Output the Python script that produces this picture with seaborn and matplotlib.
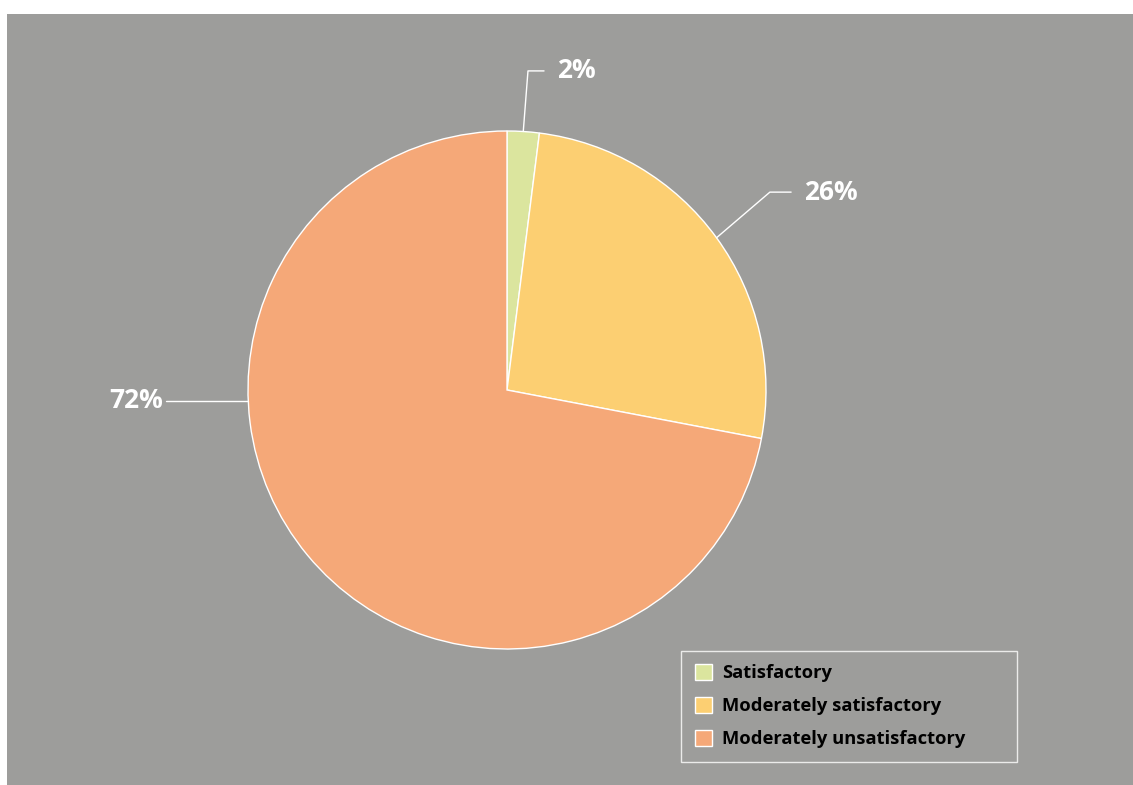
import numpy as np
import seaborn as sns
import matplotlib.pyplot as plt
from matplotlib.patches import Rectangle

categories = ["Satisfactory", "Moderately satisfactory", "Moderately unsatisfactory"]
shares = [2, 26, 72]
pct_labels = ["2%", "26%", "72%"]
colors = ["#dbe59e", "#fccf72", "#f5a878"]

sns.set_style("white")
plt.rcParams["font.family"] = ["Open Sans", "DejaVu Sans"]

bg = "#9d9d9b"
fig = plt.figure(figsize=(11.33, 7.85), dpi=100, facecolor="white")
fig.patches.append(Rectangle((7 / 1133, 0), 1, 1 - 14 / 785, transform=fig.transFigure,
                             facecolor=bg, edgecolor="none", zorder=-10))

ax = fig.add_axes([248 / 1133, 136 / 785, 518 / 1133, 518 / 785])
ax.set_facecolor("none")
wedges, _ = ax.pie(shares, colors=colors, startangle=90, counterclock=False,
                   wedgeprops=dict(edgecolor="white", linewidth=1))
ax.set_xlim(-1, 1)
ax.set_ylim(-1, 1)
ax.set_aspect("equal")
ax.axis("off")

# leader lines: elbow point and horizontal run (data units, radius = 1)
anchor_override = {2: 182.4}
elbows = [(0.081, 1.232), (1.015, 0.764), None]
runs = [0.143, 1.097, -1.317]
for i, w in enumerate(wedges):
    ang = anchor_override.get(i, (w.theta1 + w.theta2) / 2)
    ex, ey = np.cos(np.radians(ang)), np.sin(np.radians(ang))
    if elbows[i] is None:
        xs, ys = [ex, runs[i]], [ey, ey]
    else:
        bx, by = elbows[i]
        xs, ys = [ex, bx, runs[i]], [ey, by, by]
    ax.plot(xs, ys, color="white", lw=1, clip_on=False)
    tx = runs[i] + (0.05 if runs[i] > 0 else -0.011)
    ax.text(tx, ys[-1], pct_labels[i], color="white", fontsize=19, fontweight="bold",
            ha="left" if runs[i] > 0 else "right", va="center", clip_on=False)

leg = fig.legend(wedges, categories, loc="lower left", mode="expand",
                 bbox_to_anchor=(681 / 1133, 23 / 785, 336 / 1133, 112 / 785),
                 bbox_transform=fig.transFigure,
                 frameon=True, fancybox=False, edgecolor="white", facecolor=bg,
                 prop=dict(size=13.2, weight="bold"), labelcolor="black",
                 handlelength=0.95, handleheight=0.95,
                 handletextpad=0.55, borderpad=0.75, labelspacing=0.8, borderaxespad=0)
leg.get_frame().set_linewidth(1)
for h in leg.legend_handles:
    h.set_edgecolor("white")

fig.savefig("out.png", dpi=100, facecolor=fig.get_facecolor())
